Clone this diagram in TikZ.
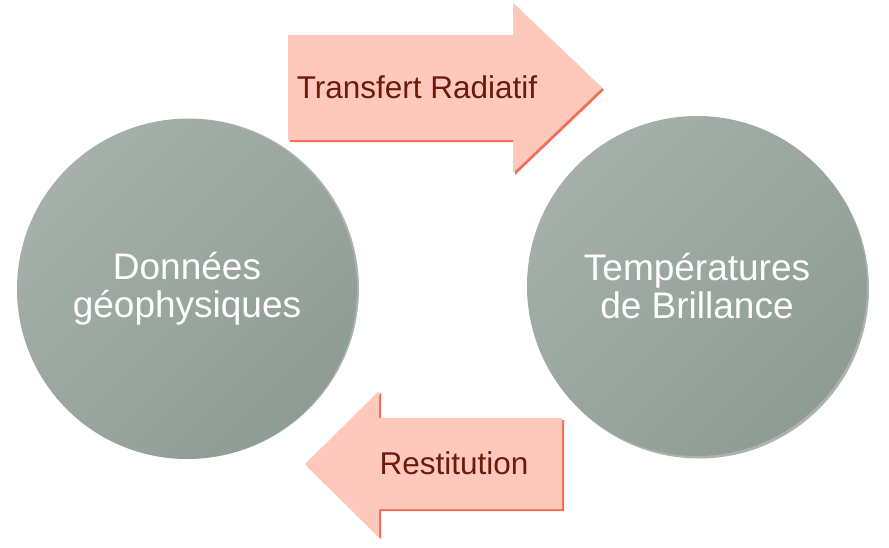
\documentclass[tikz,border=0pt]{standalone}
\usepackage{fontspec}
\setmainfont{Liberation Sans}
\definecolor{circlight}{HTML}{A4B0A9}
\definecolor{circmid}{HTML}{A1ADA6}
\definecolor{circdark}{HTML}{8E9D94}
\definecolor{circshadow}{HTML}{5E6560}
\definecolor{arrfill}{HTML}{FEC8BC}
\definecolor{arredge}{HTML}{EE5535}
\definecolor{arrtext}{HTML}{6B1A0C}
\begin{document}
\begin{tikzpicture}[x=1pt,y=-1pt,
  bubble/.style={circle, minimum size=340pt, inner sep=0pt,
    top color=circlight, middle color=circmid, bottom color=circdark, shading angle=45,
    text=white, align=center, font=\fontsize{37}{38}\selectfont},
  bubbleshadow/.style={circle, minimum size=340pt, inner sep=0pt, fill=circshadow, opacity=0.5},
  arrbody/.style={fill=arrfill},
  arrshadow/.style={fill=arredge, opacity=0.85},
  arrlabel/.style={text=arrtext, font=\fontsize{31.5}{34}\selectfont, inner sep=0pt}
]
\useasboundingbox (0,0) rectangle (889,547);
% shadows of circles
\node[bubbleshadow] at (189,288.5) {};
\node[bubbleshadow] at (699,288.5) {};
% circles
\node[bubble, yshift=-3pt] (donnees) at (187,286) {Données\\géophysiques};
\node[bubble] (temps) at (697,286) {Températures\\de Brillance};
% top arrow
\fill[arrshadow] (290,37) -- (515,37) -- (515,5) -- (604,90) -- (515,175) -- (515,142) -- (290,142) -- cycle;
\fill[arrbody] (288,35) -- (513,35) -- (513,3) -- (602,88) -- (513,173) -- (513,140) -- (288,140) -- cycle;
\node[arrlabel, anchor=base] (transfert) at (417,98) {Transfert Radiatif};
% bottom arrow
\fill[arrshadow] (564,420) -- (381,420) -- (381,393) -- (307,466) -- (381,539) -- (381,511) -- (564,511) -- cycle;
\fill[arrbody] (562,418) -- (379,418) -- (379,391) -- (305,464) -- (379,537) -- (379,509) -- (562,509) -- cycle;
\node[arrlabel, anchor=base] (restitution) at (454,474) {Restitution};
\end{tikzpicture}
\end{document}
